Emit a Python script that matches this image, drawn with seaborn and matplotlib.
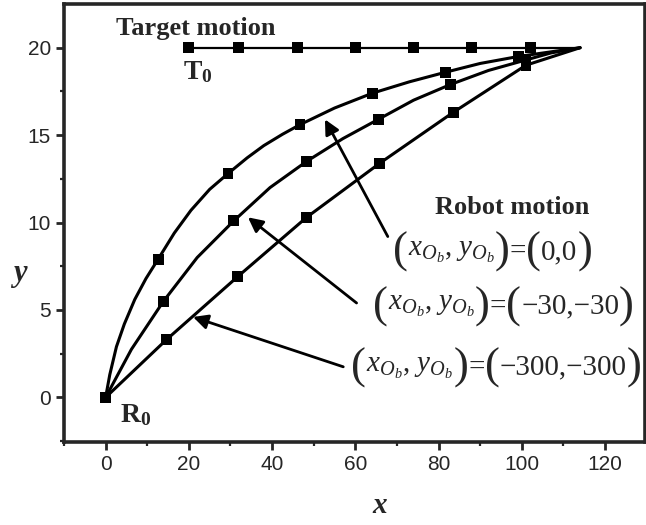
# Target / robot trajectories for different origin offsets
import numpy as np
import pandas as pd
import matplotlib
matplotlib.use('Agg')
import matplotlib.pyplot as plt
import seaborn as sns

# target motion (markers + end of line)
target_x = [20, 32, 46, 60, 74, 88, 102]
target_y = [20, 20, 20, 20, 20, 20, 20]
target_end = (114, 20)

# robot motion, (xOb, yOb) = (0,0)
a_x = [0, 12.6, 29.4, 46.7, 64.1, 81.7, 99.2]
a_y = [0, 7.9, 12.8, 15.6, 17.4, 18.6, 19.5]
a_path_x = [0, 1.0, 2.6, 4.5, 7.0, 9.7, 12.6, 16.5, 20.5, 25.0, 29.4, 34.0,
            38.0, 42.5, 46.7, 55.0, 64.1, 73.0, 81.7, 90.0, 99.2, 114]
a_path_y = [0, 1.3, 2.9, 4.2, 5.6, 6.8, 7.9, 9.4, 10.7, 11.9, 12.8, 13.7,
            14.4, 15.05, 15.6, 16.55, 17.4, 18.05, 18.6, 19.1, 19.5, 20]

# robot motion, (-30,-30)
b_x = [0, 13.9, 30.8, 48.3, 65.5, 82.9, 101.0]
b_y = [0, 5.5, 10.1, 13.5, 15.9, 17.9, 19.3]
b_path_x = [0, 6.2, 13.9, 22.0, 30.8, 39.5, 48.3, 57.0, 65.5, 74.0, 82.9,
            92.0, 101.0, 107.0, 114]
b_path_y = [0, 2.75, 5.5, 8.0, 10.1, 12.0, 13.5, 14.8, 15.9, 17.0, 17.9,
            18.7, 19.3, 19.7, 20]

# robot motion, (-300,-300)
c_x = [0, 14.6, 31.7, 48.3, 65.9, 83.5, 101.0]
c_y = [0, 3.3, 6.9, 10.3, 13.4, 16.3, 19.0]
c_path_x = c_x + [114]
c_path_y = c_y + [20]

offsets = [('0', '0'), ('-30', '-30'), ('-300', '-300')]
label_pos = [(69.0, 8.3), (64.2, 5.2), (59.0, 1.7)]
arrow_tail = [(67.8, 9.2), (60.3, 5.4), (57.1, 1.75)]
arrow_tip = [(52.7, 15.9), (34.2, 10.3), (21.0, 4.6)]

paths = pd.concat([
    pd.DataFrame({'x': a_path_x, 'y': a_path_y, 'curve': 'a'}),
    pd.DataFrame({'x': b_path_x, 'y': b_path_y, 'curve': 'b'}),
    pd.DataFrame({'x': c_path_x, 'y': c_path_y, 'curve': 'c'}),
], ignore_index=True)
marks = pd.DataFrame({'x': a_x + b_x + c_x + target_x,
                      'y': a_y + b_y + c_y + target_y})
target_line = pd.DataFrame({'x': [target_x[0], target_end[0]],
                            'y': [target_y[0], target_end[1]]})

sns.set_style('ticks')
plt.rcParams['mathtext.fontset'] = 'custom'
plt.rcParams['mathtext.rm'] = 'Liberation Serif'
plt.rcParams['mathtext.it'] = 'Liberation Serif:italic'
plt.rcParams['mathtext.bf'] = 'Liberation Serif:bold'
plt.rcParams['font.family'] = ['Liberation Sans', 'DejaVu Sans']
serif = ['Liberation Serif', 'DejaVu Serif']

fig = plt.figure(figsize=(6.46, 5.25), dpi=100)
ax = fig.add_axes([64 / 646, 83 / 525, 581 / 646, 438 / 525])

sns.lineplot(data=paths, x='x', y='y', units='curve', estimator=None,
             sort=False, color='black', lw=2.2, ax=ax)
sns.lineplot(data=target_line, x='x', y='y', color='black', lw=1.6,
             sort=False, ax=ax)
sns.scatterplot(data=marks, x='x', y='y', marker='s', s=62, color='black',
                edgecolor='none', zorder=5, ax=ax)

for (tx, ty), (hx, hy) in zip(arrow_tail, arrow_tip):
    ax.annotate('', xy=(hx, hy), xytext=(tx, ty),
                arrowprops=dict(arrowstyle='-|>', color='black', lw=2.0,
                                mutation_scale=22, shrinkA=0, shrinkB=0))


def formula(x, y, ox, oy):
    # big brackets chained to the normal-size pieces
    pieces = [('(', 32), (r'$x_{O_b}$, $y_{O_b}$', 21), (')', 32),
              ('=', 21), ('(', 32),
              (ox.replace('-', '\u2212') + ',' + oy.replace('-', '\u2212'), 21),
              (')', 32)]
    prev = ax.text(x, y, pieces[0][0], fontsize=pieces[0][1], family=serif,
                   ha='left', va='center')
    for s, fs in pieces[1:]:
        prev = ax.annotate(s, xy=(1, 0.5), xycoords=prev, fontsize=fs,
                           family=serif, ha='left', va='center')


for (ox, oy), (lx, ly) in zip(offsets, label_pos):
    formula(lx, ly, ox, oy)

ax.text(2.6, 20.7, 'Target motion', family=serif, weight='bold', fontsize=19)
ax.text(79.1, 10.5, 'Robot motion', family=serif, weight='bold', fontsize=19)
ax.text(18.5, 18.2, r'$\mathbf{T_0}$', fontsize=20)
ax.text(3.4, -1.4, r'$\mathbf{R_0}$', fontsize=20)

ax.set_xlim(-10, 129.6)
ax.set_ylim(-2.55, 22.5)
ax.set_xticks([0, 20, 40, 60, 80, 100, 120])
ax.set_yticks([0, 5, 10, 15, 20])
ax.set_xticks(np.arange(-10, 130, 10), minor=True)
ax.set_yticks(np.arange(-2.5, 22.5, 2.5), minor=True)
ax.tick_params(which='major', direction='out', length=6, width=2,
               labelsize=15, top=False, right=False)
ax.tick_params(which='minor', direction='out', length=3, width=1.6,
               top=False, right=False)
for sp in ax.spines.values():
    sp.set_visible(True)
    sp.set_linewidth(2.6)

ax.set_xlabel('x', family=serif, style='italic', weight='bold', fontsize=21)
ax.set_ylabel('y', family=serif, style='italic', weight='bold', fontsize=22,
              rotation=0, va='center', ha='center')
ax.xaxis.set_label_coords(0.544, -0.115)
ax.yaxis.set_label_coords(-0.076, 0.384)

fig.savefig('out.png', dpi=100)
